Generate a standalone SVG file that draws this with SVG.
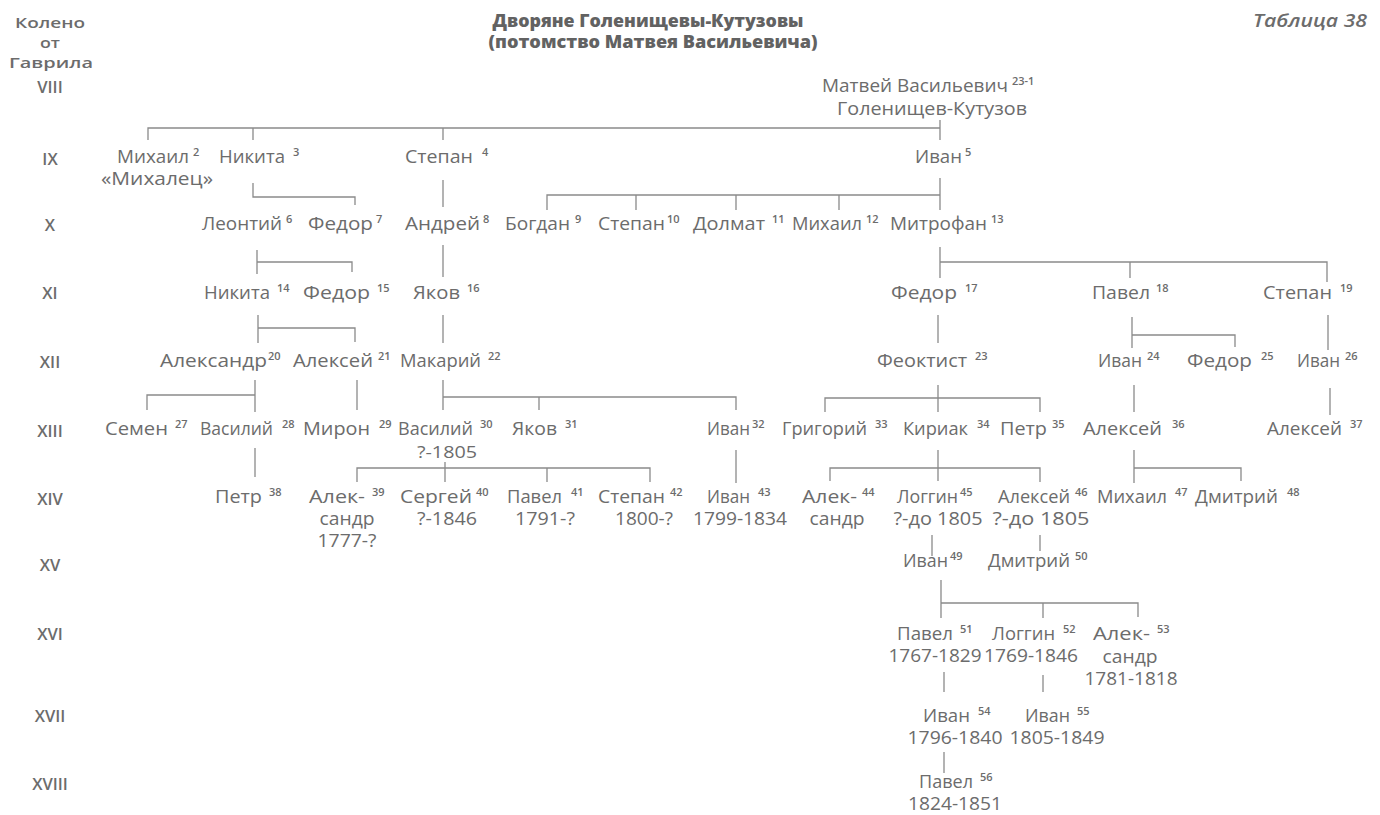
<svg xmlns="http://www.w3.org/2000/svg" width="1380" height="815" viewBox="0 0 1380 815">
<style>
text { font-family: "Open Sans", "Noto Sans", sans-serif; font-size: 17.5px; font-weight: 500; fill: #6c6c6c; }
.s { font-size: 11px; font-weight: 600; }
.m { text-anchor: middle; }
.r { text-anchor: middle; font-size: 16.5px; font-weight: 600; }
.h { text-anchor: middle; font-size: 14.5px; font-weight: 600; }
.title { font-weight: 800; text-anchor: middle; font-size: 17px; fill: #626262; }
.tab { font-style: italic; text-anchor: end; font-size: 18px; font-weight: 600; }
#connectors path { stroke: #8a8a8a; stroke-width: 1.3; fill: none; }
</style>
<rect width="1380" height="815" fill="#ffffff"/>
<g id="header">
<text class="title" x="648" y="27" textLength="311" lengthAdjust="spacingAndGlyphs">Дворяне Голенищевы-Кутузовы</text>
<text class="title" x="653" y="48" textLength="329" lengthAdjust="spacingAndGlyphs">(потомство Матвея Васильевича)</text>
<text class="tab" x="1367" y="27" textLength="114" lengthAdjust="spacingAndGlyphs">Таблица 38</text>
</g>
<g id="generations">
<text class="h" x="50" y="28" textLength="70" lengthAdjust="spacingAndGlyphs">Колено</text>
<text class="h" x="50" y="48" textLength="20" lengthAdjust="spacingAndGlyphs">от</text>
<text class="h" x="51" y="68" textLength="84" lengthAdjust="spacingAndGlyphs">Гаврила</text>
<text class="r" x="50" y="93">VIII</text>
<text class="r" x="50" y="165">IX</text>
<text class="r" x="50" y="231">X</text>
<text class="r" x="50" y="299">XI</text>
<text class="r" x="50" y="368">XII</text>
<text class="r" x="50" y="437">XIII</text>
<text class="r" x="50" y="505">XIV</text>
<text class="r" x="50" y="571">XV</text>
<text class="r" x="50" y="640">XVI</text>
<text class="r" x="50" y="722">XVII</text>
<text class="r" x="50" y="790">XVIII</text>
</g>
<g id="connectors">
<path d="M148,140 V128 H940 M253,128 V140 M443,128 V140 M940,120 V140"/>
<path d="M253,183 V197 H355 V205"/>
<path d="M443,180 V207"/>
<path d="M940,178 V210 M547,210 V195 H940 M636,195 V210 M736,195 V210 M839,195 V210"/>
<path d="M257,250 V274 M257,262 H352 V272"/>
<path d="M443,245 V277"/>
<path d="M940,247 V278 M940,262 H1327 V282 M1130,262 V278"/>
<path d="M258,315 V343 M258,328 H355 V342"/>
<path d="M443,315 V343"/>
<path d="M938,315 V343"/>
<path d="M1132,317 V348 M1132,335 H1235 V347"/>
<path d="M1328,315 V350"/>
<path d="M255,380 V412 M147,410 V395 H255"/>
<path d="M357,380 V410"/>
<path d="M443,380 V410 M443,397 H736 V410 M539,397 V410"/>
<path d="M938,385 V412 M825,412 V398 H1040 V412"/>
<path d="M1134,385 V412"/>
<path d="M1330,388 V415"/>
<path d="M255,448 V477"/>
<path d="M445,462 V482 M357,482 V468 H650 V482 M547,468 V482"/>
<path d="M736,450 V483"/>
<path d="M938,450 V481 M830,481 V468 H1040 V482"/>
<path d="M1134,450 V483 M1134,468 H1241 V481"/>
<path d="M932,535 V556"/>
<path d="M1040,535 V551"/>
<path d="M941,580 V618 M941,603 H1138 V617 M1043,603 V618"/>
<path d="M944,672 V692"/>
<path d="M1043,675 V692"/>
<path d="M944,752 V773"/>
</g>
<g id="n1"><text x="822" y="92" textLength="186" lengthAdjust="spacingAndGlyphs">Матвей Васильевич</text><text class="s" x="1012" y="85">23-1</text><text class="m" x="932" y="115" textLength="190" lengthAdjust="spacingAndGlyphs">Голенищев-Кутузов</text></g>
<g id="n2"><text x="117" y="163" textLength="72" lengthAdjust="spacingAndGlyphs">Михаил</text><text class="s" x="193" y="156">2</text><text class="m" x="157" y="185" textLength="112" lengthAdjust="spacingAndGlyphs">«Михалец»</text></g>
<g id="n3"><text x="219" y="163" textLength="66" lengthAdjust="spacingAndGlyphs">Никита</text><text class="s" x="293" y="156">3</text></g>
<g id="n4"><text x="405" y="163" textLength="68" lengthAdjust="spacingAndGlyphs">Степан</text><text class="s" x="482" y="156">4</text></g>
<g id="n5"><text x="915" y="163" textLength="47" lengthAdjust="spacingAndGlyphs">Иван</text><text class="s" x="965" y="156">5</text></g>
<g id="n6"><text x="202" y="230" textLength="80" lengthAdjust="spacingAndGlyphs">Леонтий</text><text class="s" x="286" y="223">6</text></g>
<g id="n7"><text x="308" y="230" textLength="65" lengthAdjust="spacingAndGlyphs">Федор</text><text class="s" x="376" y="223">7</text></g>
<g id="n8"><text x="405" y="230" textLength="75" lengthAdjust="spacingAndGlyphs">Андрей</text><text class="s" x="483" y="223">8</text></g>
<g id="n9"><text x="505" y="230" textLength="65" lengthAdjust="spacingAndGlyphs">Богдан</text><text class="s" x="575" y="223">9</text></g>
<g id="n10"><text x="598" y="230" textLength="67" lengthAdjust="spacingAndGlyphs">Степан</text><text class="s" x="667" y="223">10</text></g>
<g id="n11"><text x="693" y="230" textLength="72" lengthAdjust="spacingAndGlyphs">Долмат</text><text class="s" x="772" y="223">11</text></g>
<g id="n12"><text x="792" y="230" textLength="70" lengthAdjust="spacingAndGlyphs">Михаил</text><text class="s" x="866" y="223">12</text></g>
<g id="n13"><text x="890" y="230" textLength="97" lengthAdjust="spacingAndGlyphs">Митрофан</text><text class="s" x="991" y="223">13</text></g>
<g id="n14"><text x="204" y="299" textLength="66" lengthAdjust="spacingAndGlyphs">Никита</text><text class="s" x="277" y="292">14</text></g>
<g id="n15"><text x="303" y="299" textLength="67" lengthAdjust="spacingAndGlyphs">Федор</text><text class="s" x="377" y="292">15</text></g>
<g id="n16"><text x="413" y="299" textLength="47" lengthAdjust="spacingAndGlyphs">Яков</text><text class="s" x="467" y="292">16</text></g>
<g id="n17"><text x="891" y="299" textLength="66" lengthAdjust="spacingAndGlyphs">Федор</text><text class="s" x="965" y="292">17</text></g>
<g id="n18"><text x="1092" y="299" textLength="58" lengthAdjust="spacingAndGlyphs">Павел</text><text class="s" x="1156" y="292">18</text></g>
<g id="n19"><text x="1263" y="299" textLength="69" lengthAdjust="spacingAndGlyphs">Степан</text><text class="s" x="1340" y="292">19</text></g>
<g id="n20"><text x="160" y="367" textLength="107" lengthAdjust="spacingAndGlyphs">Александр</text><text class="s" x="268" y="360">20</text></g>
<g id="n21"><text x="293" y="367" textLength="80" lengthAdjust="spacingAndGlyphs">Алексей</text><text class="s" x="378" y="360">21</text></g>
<g id="n22"><text x="400" y="367" textLength="81" lengthAdjust="spacingAndGlyphs">Макарий</text><text class="s" x="488" y="360">22</text></g>
<g id="n23"><text x="877" y="367" textLength="90" lengthAdjust="spacingAndGlyphs">Феоктист</text><text class="s" x="975" y="360">23</text></g>
<g id="n24"><text x="1098" y="367" textLength="44" lengthAdjust="spacingAndGlyphs">Иван</text><text class="s" x="1147" y="360">24</text></g>
<g id="n25"><text x="1187" y="367" textLength="65" lengthAdjust="spacingAndGlyphs">Федор</text><text class="s" x="1261" y="360">25</text></g>
<g id="n26"><text x="1297" y="367" textLength="43" lengthAdjust="spacingAndGlyphs">Иван</text><text class="s" x="1345" y="360">26</text></g>
<g id="n27"><text x="105" y="435" textLength="63" lengthAdjust="spacingAndGlyphs">Семен</text><text class="s" x="175" y="428">27</text></g>
<g id="n28"><text x="200" y="435" textLength="73" lengthAdjust="spacingAndGlyphs">Василий</text><text class="s" x="282" y="428">28</text></g>
<g id="n29"><text x="303" y="435" textLength="67" lengthAdjust="spacingAndGlyphs">Мирон</text><text class="s" x="379" y="428">29</text></g>
<g id="n30"><text x="398" y="435" textLength="75" lengthAdjust="spacingAndGlyphs">Василий</text><text class="s" x="480" y="428">30</text><text class="m" x="447" y="458" textLength="60" lengthAdjust="spacingAndGlyphs" style="font-size:16.5px">?-1805</text></g>
<g id="n31"><text x="512" y="435" textLength="45" lengthAdjust="spacingAndGlyphs">Яков</text><text class="s" x="565" y="428">31</text></g>
<g id="n32"><text x="707" y="435" textLength="43" lengthAdjust="spacingAndGlyphs">Иван</text><text class="s" x="752" y="428">32</text></g>
<g id="n33"><text x="782" y="435" textLength="85" lengthAdjust="spacingAndGlyphs">Григорий</text><text class="s" x="875" y="428">33</text></g>
<g id="n34"><text x="903" y="435" textLength="65" lengthAdjust="spacingAndGlyphs">Кириак</text><text class="s" x="977" y="428">34</text></g>
<g id="n35"><text x="1000" y="435" textLength="47" lengthAdjust="spacingAndGlyphs">Петр</text><text class="s" x="1052" y="428">35</text></g>
<g id="n36"><text x="1083" y="435" textLength="79" lengthAdjust="spacingAndGlyphs">Алексей</text><text class="s" x="1172" y="428">36</text></g>
<g id="n37"><text x="1267" y="435" textLength="75" lengthAdjust="spacingAndGlyphs">Алексей</text><text class="s" x="1350" y="428">37</text></g>
<g id="n38"><text x="215" y="503" textLength="47" lengthAdjust="spacingAndGlyphs">Петр</text><text class="s" x="269" y="496">38</text></g>
<g id="n39"><text x="309" y="503" textLength="56" lengthAdjust="spacingAndGlyphs">Алек-</text><text class="s" x="372" y="496">39</text><text class="m" x="347" y="525" textLength="55" lengthAdjust="spacingAndGlyphs">сандр</text><text class="m" x="347" y="547" textLength="59" lengthAdjust="spacingAndGlyphs">1777-?</text></g>
<g id="n40"><text x="400" y="503" textLength="72" lengthAdjust="spacingAndGlyphs">Сергей</text><text class="s" x="476" y="496">40</text><text class="m" x="447" y="525" textLength="60" lengthAdjust="spacingAndGlyphs">?-1846</text></g>
<g id="n41"><text x="507" y="503" textLength="55" lengthAdjust="spacingAndGlyphs">Павел</text><text class="s" x="571" y="496">41</text><text class="m" x="545" y="525" textLength="60" lengthAdjust="spacingAndGlyphs">1791-?</text></g>
<g id="n42"><text x="598" y="503" textLength="67" lengthAdjust="spacingAndGlyphs">Степан</text><text class="s" x="670" y="496">42</text><text class="m" x="644" y="525" textLength="58" lengthAdjust="spacingAndGlyphs">1800-?</text></g>
<g id="n43"><text x="707" y="503" textLength="43" lengthAdjust="spacingAndGlyphs">Иван</text><text class="s" x="758" y="496">43</text><text class="m" x="740" y="525" textLength="94" lengthAdjust="spacingAndGlyphs">1799-1834</text></g>
<g id="n44"><text x="802" y="503" textLength="55" lengthAdjust="spacingAndGlyphs">Алек-</text><text class="s" x="862" y="496">44</text><text class="m" x="837" y="525" textLength="55" lengthAdjust="spacingAndGlyphs">сандр</text></g>
<g id="n45"><text x="897" y="503" textLength="61" lengthAdjust="spacingAndGlyphs">Логгин</text><text class="s" x="960" y="496">45</text><text class="m" x="938" y="525" textLength="89" lengthAdjust="spacingAndGlyphs">?-до 1805</text></g>
<g id="n46"><text x="998" y="503" textLength="72" lengthAdjust="spacingAndGlyphs">Алексей</text><text class="s" x="1075" y="496">46</text><text class="m" x="1041" y="525" textLength="97" lengthAdjust="spacingAndGlyphs">?-до 1805</text></g>
<g id="n47"><text x="1097" y="503" textLength="70" lengthAdjust="spacingAndGlyphs">Михаил</text><text class="s" x="1175" y="496">47</text></g>
<g id="n48"><text x="1195" y="503" textLength="83" lengthAdjust="spacingAndGlyphs">Дмитрий</text><text class="s" x="1287" y="496">48</text></g>
<g id="n49"><text x="903" y="567" textLength="45" lengthAdjust="spacingAndGlyphs">Иван</text><text class="s" x="950" y="560">49</text></g>
<g id="n50"><text x="988" y="567" textLength="82" lengthAdjust="spacingAndGlyphs">Дмитрий</text><text class="s" x="1075" y="560">50</text></g>
<g id="n51"><text x="897" y="640" textLength="56" lengthAdjust="spacingAndGlyphs">Павел</text><text class="s" x="960" y="633">51</text><text class="m" x="935" y="662" textLength="93" lengthAdjust="spacingAndGlyphs">1767-1829</text></g>
<g id="n52"><text x="992" y="640" textLength="63" lengthAdjust="spacingAndGlyphs">Логгин</text><text class="s" x="1063" y="633">52</text><text class="m" x="1031" y="662" textLength="94" lengthAdjust="spacingAndGlyphs">1769-1846</text></g>
<g id="n53"><text x="1093" y="640" textLength="57" lengthAdjust="spacingAndGlyphs">Алек-</text><text class="s" x="1157" y="633">53</text><text class="m" x="1130" y="663" textLength="55" lengthAdjust="spacingAndGlyphs">сандр</text><text class="m" x="1131" y="685" textLength="93" lengthAdjust="spacingAndGlyphs">1781-1818</text></g>
<g id="n54"><text x="923" y="722" textLength="47" lengthAdjust="spacingAndGlyphs">Иван</text><text class="s" x="978" y="715">54</text><text class="m" x="955" y="744" textLength="95" lengthAdjust="spacingAndGlyphs">1796-1840</text></g>
<g id="n55"><text x="1025" y="722" textLength="45" lengthAdjust="spacingAndGlyphs">Иван</text><text class="s" x="1077" y="715">55</text><text class="m" x="1057" y="744" textLength="95" lengthAdjust="spacingAndGlyphs">1805-1849</text></g>
<g id="n56"><text x="919" y="788" textLength="54" lengthAdjust="spacingAndGlyphs">Павел</text><text class="s" x="980" y="781">56</text><text class="m" x="955" y="810" textLength="94" lengthAdjust="spacingAndGlyphs">1824-1851</text></g>
</svg>
